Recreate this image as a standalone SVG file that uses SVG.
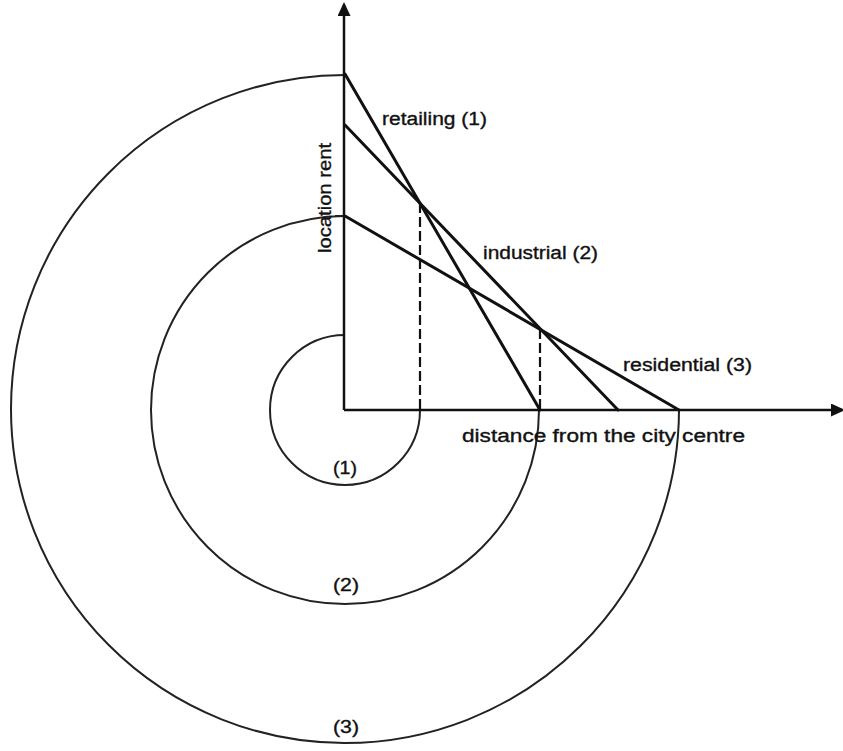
<svg xmlns="http://www.w3.org/2000/svg" width="843" height="751" viewBox="0 0 843 751">
<style>
.axis{stroke:#111;stroke-width:2.5;fill:none}
.curve{stroke:#111;stroke-width:3;fill:none;stroke-linecap:round}
.ring{stroke:#222;stroke-width:2;fill:none}
.dash{stroke:#111;stroke-width:2.2;fill:none;stroke-dasharray:10 4}
.lbl{font-family:"Liberation Sans",Arial,sans-serif;font-size:18px;fill:#111;stroke:#111;stroke-width:0.35}
</style>
<defs>
<marker id="ah" markerWidth="14" markerHeight="13" refX="11" refY="6.5" orient="auto" markerUnits="userSpaceOnUse">
<path d="M0,0 L14,6.5 L0,13 Z" fill="#111"/>
</marker>
</defs>
<rect width="843" height="751" fill="#fff"/>
<g id="rings">
<path id="ring1" class="ring" d="M 345 335 A 75 75 0 1 0 420 410"/>
<path id="ring2" class="ring" d="M 335 216 L 345 216 M 345 216 A 194 194 0 1 0 539 410"/>
<path id="ring3" class="ring" d="M 345 75 A 334 334 0 1 0 679 410"/>
</g>
<g id="axes">
<line class="axis" x1="344" y1="410" x2="344" y2="5" marker-end="url(#ah)"/>
<line class="axis" x1="344" y1="410" x2="842" y2="410" marker-end="url(#ah)"/>
</g>
<g id="connectors">
<line id="retailing" class="curve" x1="345" y1="74" x2="540" y2="410"/>
<line id="industrial" class="curve" x1="345" y1="125" x2="618" y2="410"/>
<line id="residential" class="curve" x1="345" y1="216" x2="679" y2="410"/>
<line class="dash" x1="420" y1="203" x2="420" y2="410"/>
<line class="dash" x1="540" y1="329" x2="540" y2="410"/>
</g>
<g id="labels">
<text class="lbl" x="382" y="125" textLength="105" lengthAdjust="spacingAndGlyphs">retailing (1)</text>
<text class="lbl" x="483" y="259" textLength="115" lengthAdjust="spacingAndGlyphs">industrial (2)</text>
<text class="lbl" x="623" y="371" textLength="129" lengthAdjust="spacingAndGlyphs">residential (3)</text>
<text class="lbl" x="462" y="442" textLength="283" lengthAdjust="spacingAndGlyphs">distance from the city centre</text>
<text class="lbl" transform="translate(331,253) rotate(-90)" x="0" y="0" textLength="110" lengthAdjust="spacingAndGlyphs">location rent</text>
<text class="lbl" x="345" y="474" text-anchor="middle" textLength="24" lengthAdjust="spacingAndGlyphs">(1)</text>
<text class="lbl" x="346" y="591" text-anchor="middle" textLength="26" lengthAdjust="spacingAndGlyphs">(2)</text>
<text class="lbl" x="346" y="733" text-anchor="middle" textLength="26" lengthAdjust="spacingAndGlyphs">(3)</text>
</g>
</svg>
